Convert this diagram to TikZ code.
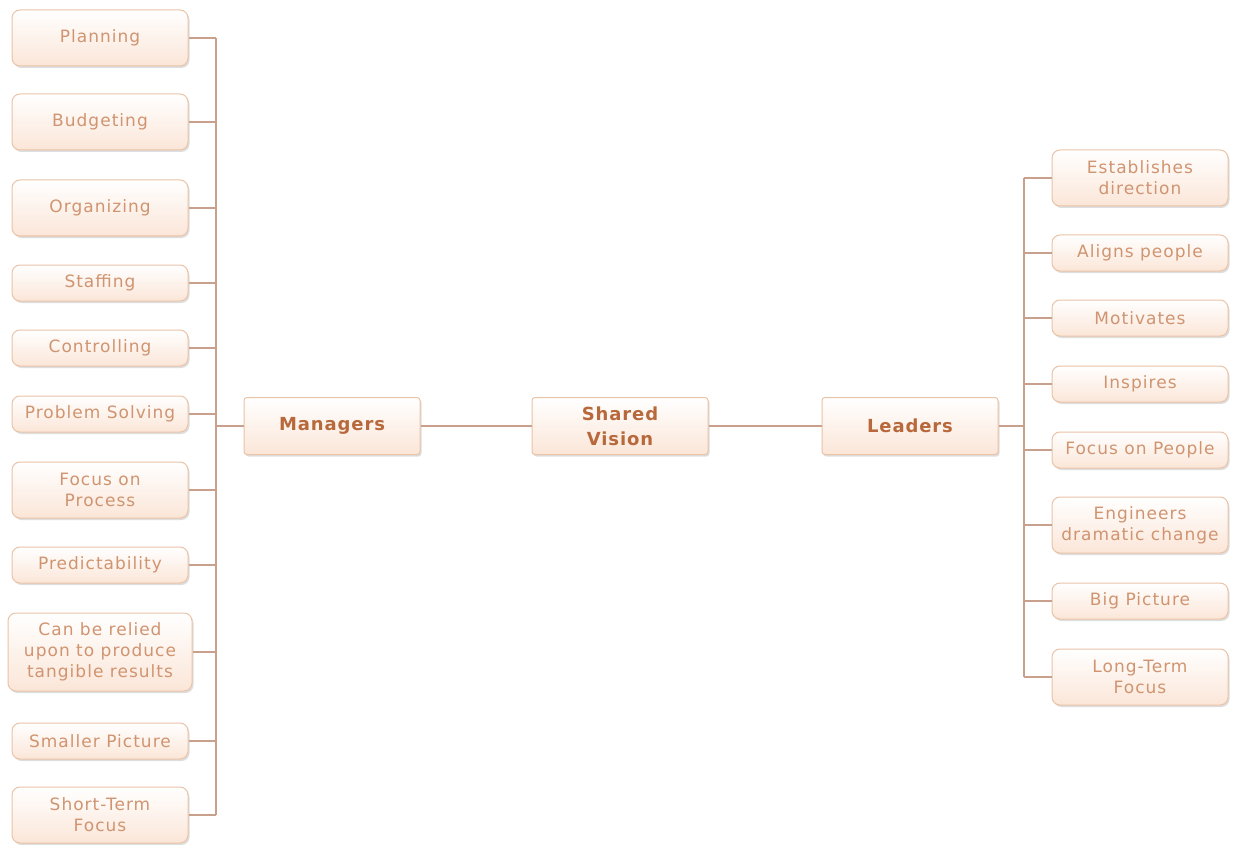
\documentclass[tikz,border=0pt]{standalone}
\usepackage{fontspec}
\setmainfont{DejaVu Sans}
\newfontfamily\leaffont[LetterSpace=6]{DejaVu Sans}
\newfontfamily\hubfont[LetterSpace=5]{DejaVu Sans}
\usetikzlibrary{shadows}
\definecolor{bord}{HTML}{EBC3A6}
\definecolor{leaftxt}{HTML}{D09470}
\definecolor{maintxt}{HTML}{B8693C}
\definecolor{linec}{HTML}{C9A08C}
\definecolor{fillb}{HTML}{FBE6D8}
\tikzset{
  box/.style={draw=bord, line width=1pt, rounded corners=8pt, top color=white, bottom color=fillb,
    drop shadow={shadow xshift=1.5pt, shadow yshift=-2pt, fill=black!25, opacity=0.5},
    align=center, inner sep=1pt, minimum width=176pt},
  leaf/.style={box, text=leaftxt, font=\leaffont\fontsize{17}{21}\selectfont},
  leafs/.style={leaf, minimum height=36pt},
  leaft/.style={leaf, minimum height=56pt},
  hub/.style={box, text=maintxt, font=\hubfont\fontsize{18}{25}\selectfont\bfseries, minimum height=57pt, rounded corners=3pt},
  conn/.style={draw=linec, line width=1.1pt}
}
\begin{document}
\begin{tikzpicture}[x=1pt,y=-1pt]
\useasboundingbox[fill=white] (0,0) rectangle (1234,845);
% left
\node[leaft] (l1) at (100,38) {Planning};
\node[leaft] (l2) at (100,122) {Budgeting};
\node[leaft] (l3) at (100,208) {Organizing};
\node[leafs] (l4) at (100,283) {Staffing};
\node[leafs] (l5) at (100,348) {Controlling};
\node[leafs] (l6) at (100,414) {Problem Solving};
\node[leaft] (l7) at (100,490) {Focus on\\Process};
\node[leafs] (l8) at (100,565) {Predictability};
\node[leaf, minimum height=78pt, minimum width=184pt] (l9) at (100,652) {Can be relied\\upon to produce\\tangible results};
\node[leafs] (l10) at (100,741) {Smaller Picture};
\node[leaft] (l11) at (100,815) {Short-Term\\Focus};
% hubs
\node[hub] (mgr) at (332,426) {Managers};
\node[hub] (sv) at (620,426) {Shared\\Vision};
\node[hub] (ldr) at (910,426) {Leaders};
% right
\node[leaft] (r1) at (1140,178) {Establishes\\direction};
\node[leafs] (r2) at (1140,253) {Aligns people};
\node[leafs] (r3) at (1140,318) {Motivates};
\node[leafs] (r4) at (1140,384) {Inspires};
\node[leafs] (r5) at (1140,450) {Focus on People};
\node[leaft] (r6) at (1140,525) {Engineers\\dramatic change};
\node[leafs] (r7) at (1140,601) {Big Picture};
\node[leaft] (r8) at (1140,677) {Long-Term\\Focus};
% buses
\coordinate (lt) at (216,38);
\coordinate (lb) at (216,815);
\coordinate (rt) at (1024,178);
\coordinate (rb) at (1024,677);
\draw[conn] (lt) -- (lb);
\draw[conn] (rt) -- (rb);
\foreach \n in {l1,l2,l3,l4,l5,l6,l7,l8,l9,l10,l11}{
  \draw[conn] (\n.east) -- (\n.east -| lt);
}
\foreach \n in {r1,r2,r3,r4,r5,r6,r7,r8}{
  \draw[conn] (\n.west) -- (\n.west -| rt);
}
\draw[conn] (mgr.west) -- (mgr.west -| lt);
\draw[conn] (mgr.east) -- (sv.west);
\draw[conn] (sv.east) -- (ldr.west);
\draw[conn] (ldr.east) -- (ldr.east -| rt);
\end{tikzpicture}
\end{document}
